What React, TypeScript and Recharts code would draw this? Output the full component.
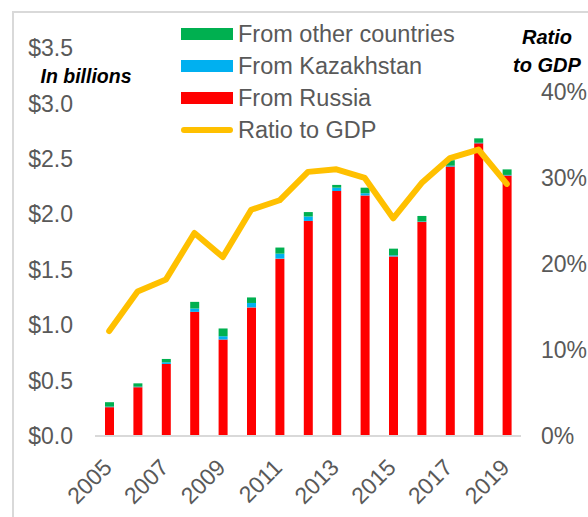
import { Bar, ComposedChart, Line, XAxis, YAxis } from 'recharts';

const FONT = '"Liberation Sans", Arial, sans-serif';
const TICK_COLOR = '#595959';
const AXIS = '#d9d9d9';
const RED = '#ff0000';
const BLUE = '#00b0f0';
const GREEN = '#00b050';
const GOLD = '#ffc000';

const years = ['2005', '2006', '2007', '2008', '2009', '2010', '2011', '2012', '2013', '2014', '2015', '2016', '2017', '2018', '2019'];
const fromRussia = [0.26, 0.44, 0.65, 1.12, 0.87, 1.16, 1.6, 1.94, 2.21, 2.17, 1.62, 1.93, 2.43, 2.64, 2.35];
const fromKazakhstan = [0.005, 0.005, 0.015, 0.03, 0.03, 0.04, 0.045, 0.04, 0.03, 0.02, 0.01, 0.005, 0.008, 0.005, 0.005];
const fromOther = [0.04, 0.03, 0.03, 0.06, 0.07, 0.05, 0.055, 0.04, 0.025, 0.05, 0.06, 0.05, 0.05, 0.04, 0.05];
const ratioToGdp = [12.2, 16.8, 18.2, 23.6, 20.8, 26.3, 27.4, 30.7, 31.0, 30.0, 25.3, 29.4, 32.3, 33.3, 29.3];

const leftTicks = [0, 0.5, 1, 1.5, 2, 2.5, 3, 3.5];
const rightTicks = [0, 10, 20, 30, 40];

const legendItems = [
  { label: 'From other countries', color: GREEN, kind: 'bar' },
  { label: 'From Kazakhstan', color: BLUE, kind: 'bar' },
  { label: 'From Russia', color: RED, kind: 'bar' },
  { label: 'Ratio to GDP', color: GOLD, kind: 'line' },
];

const data = years.map((year, i) => ({
  year,
  russia: fromRussia[i],
  kazakhstan: fromKazakhstan[i],
  other: fromOther[i],
  ratio: ratioToGdp[i],
}));

const TICK = { fill: TICK_COLOR, fontSize: 23, fontFamily: FONT };

function YearTick({ x, y, payload }: any) {
  const ax = x + 4;
  const ay = y + 31;
  return (
    <text
      x={ax}
      y={ay}
      transform={`rotate(-45, ${ax}, ${ay})`}
      textAnchor="end"
      fill={TICK_COLOR}
      fontSize={23}
      fontFamily={FONT}
    >
      {payload.value}
    </text>
  );
}

const noteStyle: React.CSSProperties = {
  position: 'absolute',
  fontFamily: FONT,
  fontWeight: 'bold',
  fontStyle: 'italic',
  fontSize: 19.5,
  color: '#000',
  lineHeight: '28px',
  textAlign: 'center',
  whiteSpace: 'nowrap',
};

export default function App() {
  return (
    <div style={{ position: 'absolute', left: 0, top: 0, width: 588, height: 517, overflow: 'hidden', background: '#fff' }}>
      <div style={{ position: 'absolute', left: 12, top: 11, width: 700, height: 600, border: `2px solid ${AXIS}` }} />
      <div style={{ position: 'absolute', left: 0, top: 0 }}>
        <ComposedChart width={600} height={517} data={data} margin={{ top: 48, right: 0, left: 0, bottom: 0 }} barSize={9}>
          <XAxis
            dataKey="year"
            interval={1}
            tick={<YearTick />}
            tickLine={false}
            tickSize={0}
            axisLine={{ stroke: AXIS, strokeWidth: 2 }}
            height={81}
          />
          <YAxis
            yAxisId="left"
            domain={[0, 3.5]}
            ticks={leftTicks}
            tickFormatter={(v: number) => `$${v.toFixed(1)}`}
            tick={TICK}
            tickLine={false}
            tickSize={0}
            tickMargin={22}
            axisLine={false}
            width={95}
          />
          <YAxis
            yAxisId="right"
            orientation="right"
            domain={[0, 45.1]}
            ticks={rightTicks}
            tickFormatter={(v: number) => `${v}%`}
            tick={TICK}
            tickLine={false}
            tickSize={0}
            tickMargin={20}
            axisLine={false}
            width={79}
          />
          <Bar yAxisId="left" dataKey="russia" stackId="a" fill={RED} isAnimationActive={false} />
          <Bar yAxisId="left" dataKey="kazakhstan" stackId="a" fill={BLUE} isAnimationActive={false} />
          <Bar yAxisId="left" dataKey="other" stackId="a" fill={GREEN} isAnimationActive={false} />
          <Line
            yAxisId="right"
            dataKey="ratio"
            stroke={GOLD}
            strokeWidth={6}
            strokeLinecap="round"
            strokeLinejoin="round"
            dot={false}
            activeDot={false}
            isAnimationActive={false}
          />
        </ComposedChart>
      </div>
      <div style={{ position: 'absolute', left: 181, top: 18, fontFamily: FONT, fontSize: 23.5, color: TICK_COLOR }}>
        {legendItems.map((item) => (
          <div key={item.label} style={{ display: 'flex', alignItems: 'center', height: 32, whiteSpace: 'nowrap' }}>
            {item.kind === 'bar' ? (
              <span style={{ display: 'inline-block', width: 52, height: 12, background: item.color }} />
            ) : (
              <span style={{ display: 'inline-block', width: 52, height: 6, borderRadius: 3, background: item.color }} />
            )}
            <span style={{ marginLeft: 5 }}>{item.label}</span>
          </div>
        ))}
      </div>
      <div style={{ ...noteStyle, left: 26, top: 62, width: 120 }}>In billions</div>
      <div style={{ ...noteStyle, left: 497, top: 23, width: 100, fontSize: 20 }}>
        Ratio
        <br />
        to GDP
      </div>
    </div>
  );
}
